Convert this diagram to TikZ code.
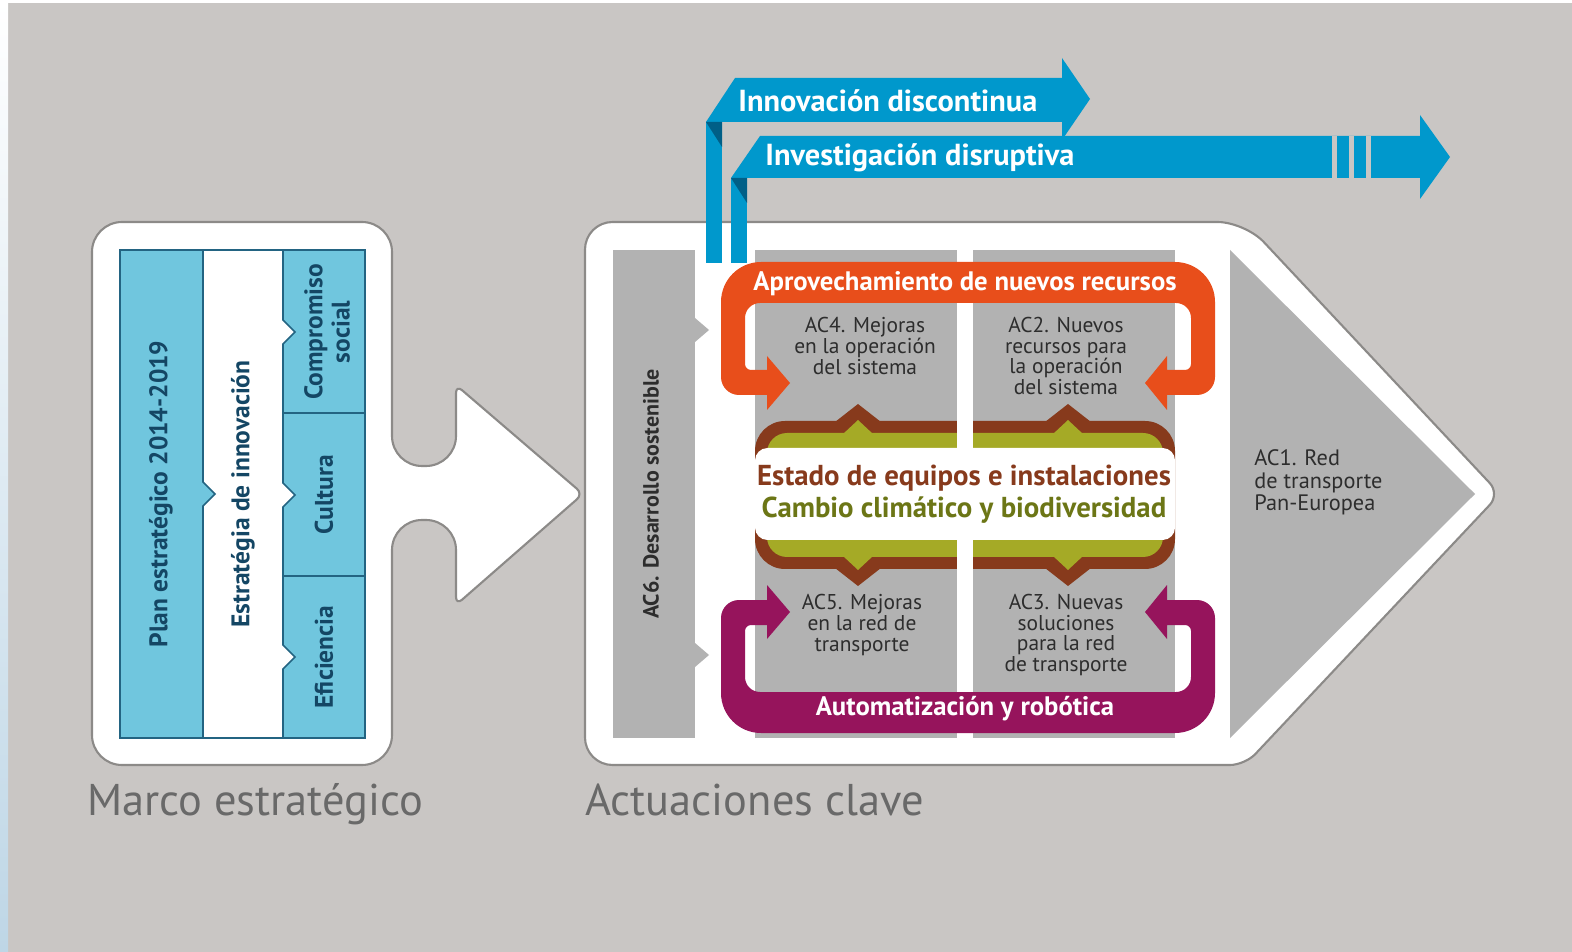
\documentclass[tikz,border=0pt]{standalone}
\usepackage{fontspec}
\setmainfont{PT Sans}

\definecolor{bggray}{RGB}{201,198,196}
\definecolor{stripblue}{RGB}{190,214,230}
\definecolor{cardline}{RGB}{140,138,136}
\definecolor{tblue}{RGB}{112,198,222}
\definecolor{tline}{RGB}{35,100,130}
\definecolor{tnavy}{RGB}{20,70,100}
\definecolor{acgray}{RGB}{178,178,178}
\definecolor{actext}{RGB}{45,45,45}
\definecolor{arrblue}{RGB}{0,152,204}
\definecolor{folddark}{RGB}{0,95,135}
\definecolor{orangeloop}{RGB}{232,78,27}
\definecolor{magloop}{RGB}{150,20,92}
\definecolor{brownbr}{RGB}{135,58,28}
\definecolor{olivebr}{RGB}{165,170,38}
\definecolor{olivetxt}{RGB}{108,118,22}
\definecolor{labelgray}{RGB}{105,105,105}

\begin{document}
\begin{tikzpicture}[x=0.02cm,y=-0.02cm,
  card/.style={fill=white,draw=cardline,line width=1.2pt},
  tbl/.style={draw=tline,line width=0.9pt},
  tbltxt/.style={rotate=90,text=tnavy,align=center,font=\bfseries\fontsize{14.5}{15.5}\selectfont},
  actxt/.style={text=actext,align=center,font=\fontsize{12.2}{11.8}\selectfont},
  looptxt/.style={text=white,font=\bfseries\fontsize{15.2}{17}\selectfont},
  bantxt/.style={text=white,anchor=west,inner sep=0pt,font=\bfseries\fontsize{17.3}{19}\selectfont},
  bracetxt/.style={font=\bfseries\fontsize{16.4}{18}\selectfont},
  caption/.style={text=labelgray,anchor=base west,inner sep=0pt,font=\fontsize{25.3}{28}\selectfont}]
  % background
  \fill[bggray] (0,0) rectangle (1572,952);
  \shade[top color=white,bottom color=stripblue] (0,0) rectangle (8,952);
  \fill[white] (0,0) rectangle (1572,3);
  \useasboundingbox (0,0) rectangle (1572,952);

  % marco estrategico card with arrow
  \draw[card] (92,494) [rounded corners=0.6cm] -- (92,222) -- (392,222) -- (392,466) -- (456,466)
    [rounded corners=0.16cm] -- (456,385) -- (583,494) -- (456,605)
    [rounded corners=0.6cm] -- (456,520) -- (392,520) -- (392,765) -- (92,765) -- cycle;
  \fill[tblue] (120,250) rectangle (365,738);
  \filldraw[fill=white,tbl] (203,250) -- (283,250) -- (283,320) -- (295,332) -- (283,344)
    -- (283,483) -- (295,495) -- (283,507) -- (283,645) -- (295,657) -- (283,669)
    -- (283,738) -- (203,738) -- (203,506) -- (215,494) -- (203,482) -- cycle;
  \draw[tbl] (120,250) rectangle (365,738);
  \draw[tbl] (283,413) -- (365,413) (283,576) -- (365,576);
  \node[tbltxt] (plan) at (161,494) {Plan estratégico 2014-2019};
  \node[tbltxt] (estrat) at (243,494) {Estratégia de innovación};
  \node[tbltxt] (compro) at (327,332) {Compromiso\\social};
  \node[tbltxt] (cultura) at (324,495) {Cultura};
  \node[tbltxt] (efic) at (324,657) {Eficiencia};

  % actuaciones clave card
  \draw[card] (585,494) [rounded corners=0.55cm] -- (585,222) -- (1245,222)
    [rounded corners=0.3cm] -- (1500,494) -- (1245,765)
    [rounded corners=0.55cm] -- (585,765) -- cycle;
  \fill[acgray] (613,250) rectangle (695,738);
  \fill[acgray] (695,318) -- (709,330) -- (695,342) -- cycle;
  \fill[acgray] (695,643) -- (709,655) -- (695,667) -- cycle;
  \node[rotate=90,text=actext,font=\bfseries\fontsize{12.5}{13}\selectfont] (ac6) at (651,494) {AC6. Desarrollo sostenible};
  \fill[acgray] (755,250) rectangle (957,738);
  \fill[acgray] (973,250) rectangle (1175,738);
  \fill[acgray] (1230,250) -- (1475,494) -- (1230,738) -- cycle;
  \node[actxt,align=left,anchor=north west,inner sep=0pt,font=\fontsize{12.7}{13}\selectfont] (ac1) at (1254,449) {AC1. Red\\de transporte\\Pan-Europea};

  % blue banners
  \fill[arrblue] (706,122) -- (735,78) -- (1062,78) -- (1062,58) -- (1090,99) -- (1062,140) -- (1062,122) -- cycle;
  \fill[arrblue] (706,122) rectangle (722,263);
  \fill[folddark] (706,122) -- (722,122) -- (722,147) -- cycle;
  \fill[arrblue] (731,178) -- (760,136) -- (1420,136) -- (1420,115) -- (1450,157) -- (1420,199) -- (1420,178) -- cycle;
  \fill[arrblue] (731,178) rectangle (747,263);
  \fill[folddark] (731,178) -- (747,178) -- (747,203) -- cycle;
  \foreach \gx in {1332,1349,1366}
    \fill[bggray] (\gx,136) rectangle ++(5,42);
  \node[bantxt] (innov) at (738,101) {Innovación discontinua};
  \node[bantxt] (invest) at (765,158) {Investigación disruptiva};

  % brackets
  \fill[brownbr,rounded corners=0.6cm] (755,421) rectangle (1175,569);
  \fill[olivebr,rounded corners=0.4cm] (767,433) rectangle (1163,557);
  \foreach \px in {858,1068} {
    \fill[brownbr] (\px-23,422) -- (\px,404) -- (\px+23,422) -- cycle;
    \fill[olivebr] (\px-15,434) -- (\px,420) -- (\px+15,434) -- cycle;
    \fill[brownbr] (\px-23,568) -- (\px,586) -- (\px+23,568) -- cycle;
    \fill[olivebr] (\px-15,556) -- (\px,570) -- (\px+15,556) -- cycle;
  }
  \fill[white] (957,400) rectangle (973,590);
  \fill[white,rounded corners=0.25cm] (755,448) rectangle (1175,540);
  \node[bracetxt,text=brownbr] (estado) at (964,478) {Estado de equipos e instalaciones};
  \node[bracetxt,text=olivetxt] (cambio) at (964,510) {Cambio climático y biodiversidad};

  % loops
  \fill[orangeloop] (767,395) [rounded corners=0.36cm] -- (721,395) [rounded corners=0.8cm] -- (721,262)
    -- (1215,262) [rounded corners=0.36cm] -- (1215,395) [sharp corners] -- (1167,395) -- (1167,410)
    -- (1145,383) -- (1167,356) -- (1167,370) [rounded corners=0.12cm] -- (1191,370)
    [rounded corners=0.3cm] -- (1191,303) -- (745,303) [rounded corners=0.12cm] -- (745,370)
    [sharp corners] -- (767,370) -- (767,356) -- (790,383) -- (767,410) -- cycle;
  \fill[magloop] (767,600) [rounded corners=0.36cm] -- (721,600) [rounded corners=0.8cm] -- (721,733)
    -- (1215,733) [rounded corners=0.36cm] -- (1215,600) [sharp corners] -- (1167,600) -- (1167,585)
    -- (1145,612) -- (1167,639) -- (1167,625) [rounded corners=0.12cm] -- (1191,625)
    [rounded corners=0.3cm] -- (1191,692) -- (745,692) [rounded corners=0.12cm] -- (745,625)
    [sharp corners] -- (767,625) -- (767,639) -- (790,612) -- (767,585) -- cycle;
  \node[looptxt] (aprov) at (965,284) {Aprovechamiento de nuevos recursos};
  \node[looptxt] (autom) at (965,709) {Automatización y robótica};

  % actuaciones
  \node[actxt] (ac4) at (865,346) {AC4. Mejoras\\en la operación\\del sistema};
  \node[actxt] (ac2) at (1066,356) {AC2. Nuevos\\recursos para\\la operación\\del sistema};
  \node[actxt] (ac5) at (862,625) {AC5. Mejoras\\en la red de\\transporte};
  \node[actxt] (ac3) at (1066,635) {AC3. Nuevas\\soluciones\\para la red\\de transporte};

  % captions
  \node[caption] (marco) at (87,815) {Marco estratégico};
  \node[caption] (actua) at (585,815) {Actuaciones clave};
\end{tikzpicture}
\end{document}
